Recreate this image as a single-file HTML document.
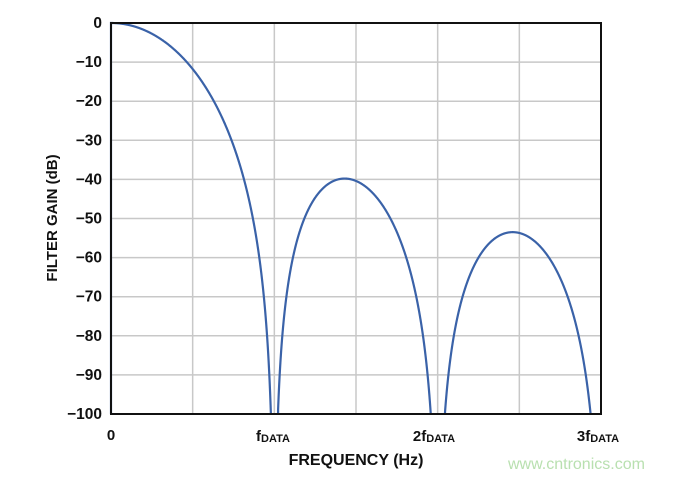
<!DOCTYPE html>
<html><head><meta charset="utf-8"><style>
body{margin:0;background:#fff;}
svg{display:block;font-family:"Liberation Sans",Arial,sans-serif;font-weight:bold;}
</style></head><body>
<svg id="s" width="690" height="478" viewBox="0 0 690 478">
<g id="grid" stroke="#c8c8c8" stroke-width="1.5"></g>
<path id="curve" fill="none" stroke="#3a62a8" stroke-width="2.2"/>
<rect x="111" y="23" width="490" height="391" fill="none" stroke="#111" stroke-width="2"/>
<g id="yl" font-size="15.5" text-anchor="end" fill="#111"></g>
<g font-size="15" fill="#111" text-anchor="middle">
<text x="111" y="440">0</text>
<text x="273" y="441">f<tspan font-size="11" dy="1">DATA</tspan></text>
<text x="434" y="441">2f<tspan font-size="11" dy="1">DATA</tspan></text>
<text x="598" y="441">3f<tspan font-size="11" dy="1">DATA</tspan></text>
<text x="356" y="465" font-size="16">FREQUENCY (Hz)</text>
<text transform="translate(57,218) rotate(-90)" font-size="15">FILTER GAIN (dB)</text>
</g>
<text x="508" y="469" font-size="16" font-weight="normal" fill="#b9e0b0">www.cntronics.com</text>
</svg>
<script>
var X0=111,W=490,Y0=23,H=391;
var g=document.getElementById('grid'),yl=document.getElementById('yl'),s='';
for(var i=1;i<6;i++){var x=X0+W*i/6;s+='<line x1="'+x+'" y1="23" x2="'+x+'" y2="414"/>';}
for(var j=1;j<10;j++){var y=Y0+H*j/10;s+='<line x1="111" y1="'+y+'" x2="601" y2="'+y+'"/>';}
g.innerHTML=s;
var t='';
for(var j=0;j<=10;j++){var y=Y0+H*j/10+5;t+='<text x="102" y="'+y+'">'+(j==0?'0':'\u2212'+(j*10))+'</text>';}
yl.innerHTML=t;
var d='',pen=false;
for(var k=0;k<=3000;k++){
 var f=k/1000,v;
 if(f==0)v=1;else v=Math.abs(Math.sin(Math.PI*f)/(Math.PI*f));
 var db=60*Math.log10(v);
 if(db<-100||!isFinite(db)){
   if(pen){d+=' L'+(X0+f*W/3).toFixed(2)+' 414';}
   pen=false;continue;}
 var x=X0+f*W/3,y=Y0-db*H/100;
 if(!pen){d+=' M'+x.toFixed(2)+' 414 L'+x.toFixed(2)+' '+y.toFixed(2);pen=true;}
 else d+=' L'+x.toFixed(2)+' '+y.toFixed(2);
}
document.getElementById('curve').setAttribute('d',d);
</script>
</body></html>
